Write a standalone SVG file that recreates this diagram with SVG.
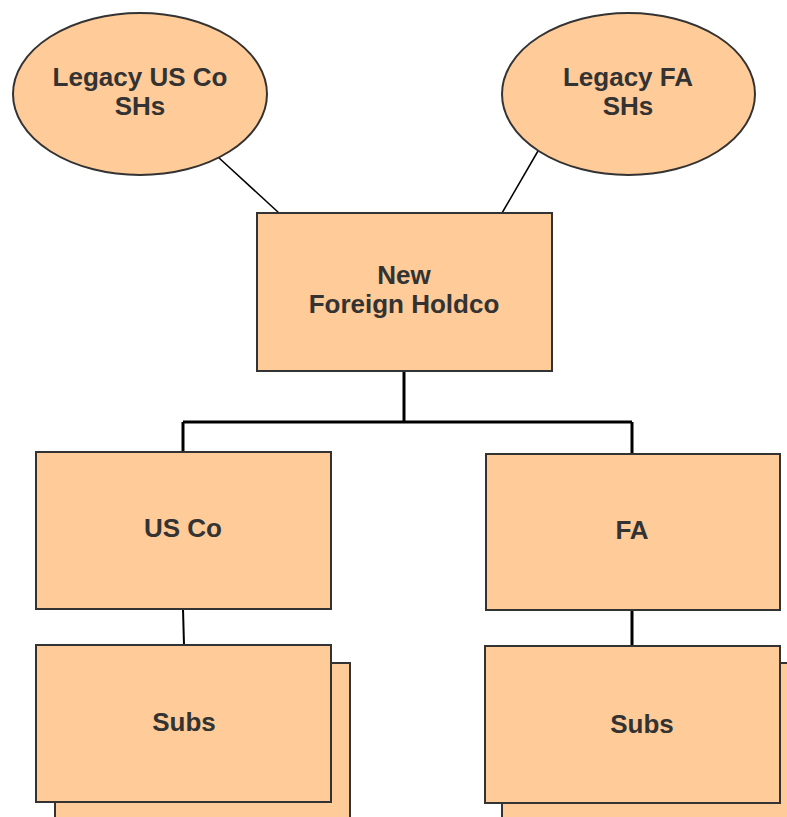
<svg xmlns="http://www.w3.org/2000/svg" width="787" height="817" viewBox="0 0 787 817">
  <style>
    .shape { fill: #FFCB98; stroke: #333333; stroke-width: 2; }
    .label { font-family: "Liberation Sans", Arial, sans-serif; font-weight: bold; font-size: 26px; fill: #333333; text-anchor: middle; }
    .link { stroke: #000000; fill: none; }
  </style>
  <rect width="787" height="817" fill="#FFFFFF"/>

  <g id="connectors">
    <line class="link" x1="218" y1="157" x2="279" y2="213" stroke-width="1.5"/>
    <line class="link" x1="538" y1="151" x2="502" y2="213" stroke-width="1.5"/>
    <path class="link" d="M404 371 V422 M183 422 H632 M183 422 V452 M632 422 V454" stroke-width="3"/>
    <line class="link" x1="183" y1="609" x2="184" y2="645" stroke-width="2"/>
    <line class="link" x1="632" y1="610" x2="632" y2="646" stroke-width="3"/>
  </g>

  <g id="legacy-us-shs">
    <ellipse class="shape" cx="140" cy="94" rx="127" ry="81"/>
    <text class="label" x="140" y="86">Legacy US Co</text>
    <text class="label" x="140" y="115">SHs</text>
  </g>

  <g id="legacy-fa-shs">
    <ellipse class="shape" cx="628.5" cy="94" rx="126.5" ry="81"/>
    <text class="label" x="628" y="86">Legacy FA</text>
    <text class="label" x="628" y="115">SHs</text>
  </g>

  <g id="new-foreign-holdco">
    <rect class="shape" x="257" y="213" width="295" height="158"/>
    <text class="label" x="404" y="284">New</text>
    <text class="label" x="404" y="313">Foreign Holdco</text>
  </g>

  <g id="us-co">
    <rect class="shape" x="36" y="452" width="295" height="157"/>
    <text class="label" x="183" y="537">US Co</text>
  </g>

  <g id="fa">
    <rect class="shape" x="486" y="454" width="294" height="156"/>
    <text class="label" x="632" y="539">FA</text>
  </g>

  <g id="us-subs">
    <rect class="shape" x="55" y="663" width="295" height="170"/>
    <rect class="shape" x="36" y="645" width="295" height="157"/>
    <text class="label" x="184" y="731">Subs</text>
  </g>

  <g id="fa-subs">
    <rect class="shape" x="502" y="663" width="295" height="170"/>
    <rect class="shape" x="485" y="646" width="295" height="157"/>
    <text class="label" x="642" y="733">Subs</text>
  </g>
</svg>
